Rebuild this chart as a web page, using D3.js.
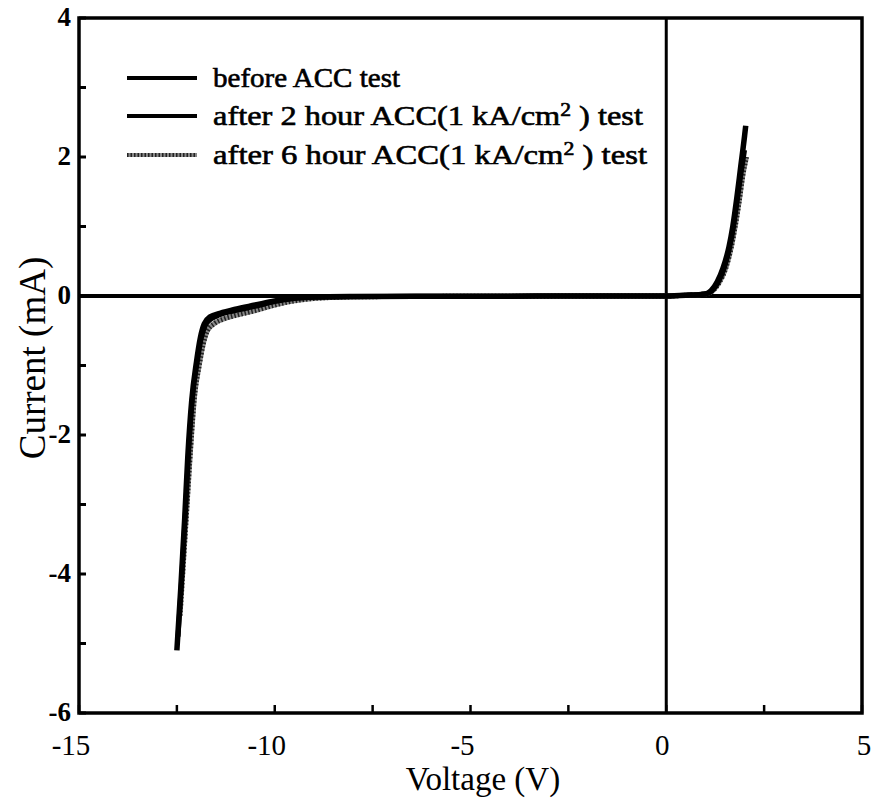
<!DOCTYPE html>
<html><head><meta charset="utf-8">
<script src="https://cdn.jsdelivr.net/npm/d3@7"></script>
<style>body{margin:0;background:#fff}svg{display:block}</style>
</head><body><svg id="c" width="873" height="799"></svg>
<script>
// ---- data ----
const seriesNames = ["before ACC test", "after 2 hour ACC(1 kA/cm2 ) test", "after 6 hour ACC(1 kA/cm2 ) test"];
const vBefore = [-12.5,-12.4,-12.3,-12.22,-12.12,-12.0,-11.9,-11.8,-11.65,-11.4,-11.0,-10.5,-10.0,-9.5,-9.0,-8.0,-6.0,-4.0,-2.0,0.0,0.5,1.0,1.15,1.3,1.45,1.6,1.7,1.8,1.9,2.0,2.03];
const iBefore = [-5.1,-4.2,-3.2,-2.3,-1.5,-0.95,-0.6,-0.4,-0.3,-0.25,-0.19,-0.13,-0.07,-0.03,-0.015,-0.008,-0.004,-0.002,0,0,0.01,0.03,0.08,0.2,0.4,0.7,1.0,1.4,1.85,2.3,2.45];
const v2h = [-12.47,-12.38,-12.28,-12.2,-12.1,-11.98,-11.88,-11.78,-11.62,-11.4,-11.0,-10.5,-10.0,-9.5,-9.0,-8.0,-6.0,-4.0,-2.0,0.0,0.5,1.0,1.18,1.33,1.48,1.62,1.72,1.82,1.92,2.0];
const i2h = [-4.9,-4.1,-3.1,-2.25,-1.45,-0.95,-0.62,-0.43,-0.33,-0.27,-0.21,-0.15,-0.08,-0.035,-0.018,-0.009,-0.004,-0.002,0,0,0.01,0.03,0.08,0.2,0.4,0.7,1.0,1.4,1.8,2.1];
const v6h = [-12.42,-12.33,-12.24,-12.15,-12.05,-11.93,-11.83,-11.72,-11.55,-11.3,-11.0,-10.5,-10.0,-9.5,-9.0,-8.5,-8.0,-6.0,-4.0,-2.0,0.0,0.5,1.0,1.2,1.36,1.52,1.66,1.76,1.86,1.96,2.05];
const i6h = [-4.6,-3.8,-3.0,-2.2,-1.45,-1.0,-0.7,-0.5,-0.4,-0.33,-0.28,-0.21,-0.13,-0.07,-0.035,-0.02,-0.012,-0.006,-0.003,-0.001,0,0.01,0.03,0.08,0.2,0.4,0.7,1.0,1.35,1.75,2.0];
const xTicks = [-15,-10,-5,0,5];
const yTicks = [4,2,0,-2,-4,-6];
const xTitle = "Voltage (V)";
const yTitle = "Current (mA)";

// ---- layout ----
const svg = d3.select("#c");
const x = d3.scaleLinear().domain([-15,5]).range([79,862]);
const y = d3.scaleLinear().domain([-6,4]).range([713,18]);
const serif = "'Liberation Serif','Times New Roman',serif";

const line = d3.line().x(d=>x(d[0])).y(d=>y(d[1])).curve(d3.curveMonotoneX);
function pts(v,i){return v.map((d,k)=>[d,i[k]]);}

// zero lines
svg.append("line").attr("x1",x(-15)).attr("x2",x(5)).attr("y1",y(0)).attr("y2",y(0))
  .attr("stroke","#000").attr("stroke-width",4);
svg.append("line").attr("x1",x(0)).attr("x2",x(0)).attr("y1",y(4)).attr("y2",y(-6))
  .attr("stroke","#000").attr("stroke-width",3);

// curves
const g = svg.append("g");
g.append("path").datum(pts(v6h,i6h)).attr("d",line).attr("fill","none")
  .attr("stroke","#888").attr("stroke-width",5);
g.append("path").datum(pts(v6h,i6h)).attr("d",line).attr("fill","none")
  .attr("stroke","#222").attr("stroke-width",5).attr("stroke-dasharray","1.5,2");
g.append("path").datum(pts(v2h,i2h)).attr("d",line).attr("fill","none")
  .attr("stroke","#000").attr("stroke-width",5);
g.append("path").datum(pts(vBefore,iBefore)).attr("d",line).attr("fill","none")
  .attr("stroke","#000").attr("stroke-width",5.5);

// frame
svg.append("rect").attr("x",x(-15)).attr("y",y(4)).attr("width",x(5)-x(-15)).attr("height",y(-6)-y(4))
  .attr("fill","none").attr("stroke","#000").attr("stroke-width",3.5);

// ticks (inward)
const yMinor = d3.range(-6,5,1);
svg.append("g").selectAll("line").data(yMinor).join("line")
  .attr("x1",x(-15)).attr("x2",x(-15)+7).attr("y1",d=>y(d)).attr("y2",d=>y(d))
  .attr("stroke","#000").attr("stroke-width",3);
const xMinor = d3.range(-15,5.01,2.5);
svg.append("g").selectAll("line").data(xMinor).join("line")
  .attr("x1",d=>x(d)).attr("x2",d=>x(d)).attr("y1",y(-6)).attr("y2",y(-6)-8)
  .attr("stroke","#000").attr("stroke-width",2.5);

// tick labels
svg.append("g").selectAll("text").data(yTicks).join("text")
  .attr("x",71).attr("y",d=>y(d)).attr("dy","0.3em").attr("text-anchor","end")
  .attr("font-family",serif).attr("font-weight","bold").attr("font-size",27)
  .text(d=>d);
svg.append("g").selectAll("text").data(xTicks).join("text")
  .attr("x",d=>x(d)-(d<0?8:(d>0?-2:4))).attr("y",755).attr("text-anchor","middle")
  .attr("font-family",serif).attr("font-size",29)
  .text(d=>d);

// titles
svg.append("text").attr("x",483).attr("y",790).attr("text-anchor","middle")
  .attr("font-family",serif).attr("font-size",33).text(xTitle);
svg.append("text").attr("transform","translate(45,358) rotate(-90)").attr("text-anchor","middle")
  .attr("font-family",serif).attr("font-size",37).text(yTitle);

// legend
const lg = svg.append("g");
const rows = [78,116,155];
const lens = [187,430,434];
seriesNames.forEach((name,k)=>{
  const yy = rows[k];
  if(k===2){
    lg.append("line").attr("x1",127).attr("x2",197).attr("y1",yy).attr("y2",yy)
      .attr("stroke","#888").attr("stroke-width",4);
    lg.append("line").attr("x1",127).attr("x2",197).attr("y1",yy).attr("y2",yy)
      .attr("stroke","#222").attr("stroke-width",4).attr("stroke-dasharray","1.5,2");
  } else {
    lg.append("line").attr("x1",127).attr("x2",197).attr("y1",yy).attr("y2",yy)
      .attr("stroke","#000").attr("stroke-width",4);
  }
  const t = lg.append("text").attr("x",213).attr("y",yy+9)
    .attr("font-family",serif).attr("font-size",27)
    .attr("stroke","#000").attr("stroke-width",0.6)
    .attr("textLength",lens[k]).attr("lengthAdjust","spacingAndGlyphs");
  if(k===0){ t.text(name); }
  else {
    t.append("tspan").text("after "+(k===1?"2":"6")+" hour ACC(1 kA/cm");
    t.append("tspan").attr("dy",-9).attr("font-size",18).text("2");
    t.append("tspan").attr("dy",9).text(" ) test");
  }
});
</script></body></html>
